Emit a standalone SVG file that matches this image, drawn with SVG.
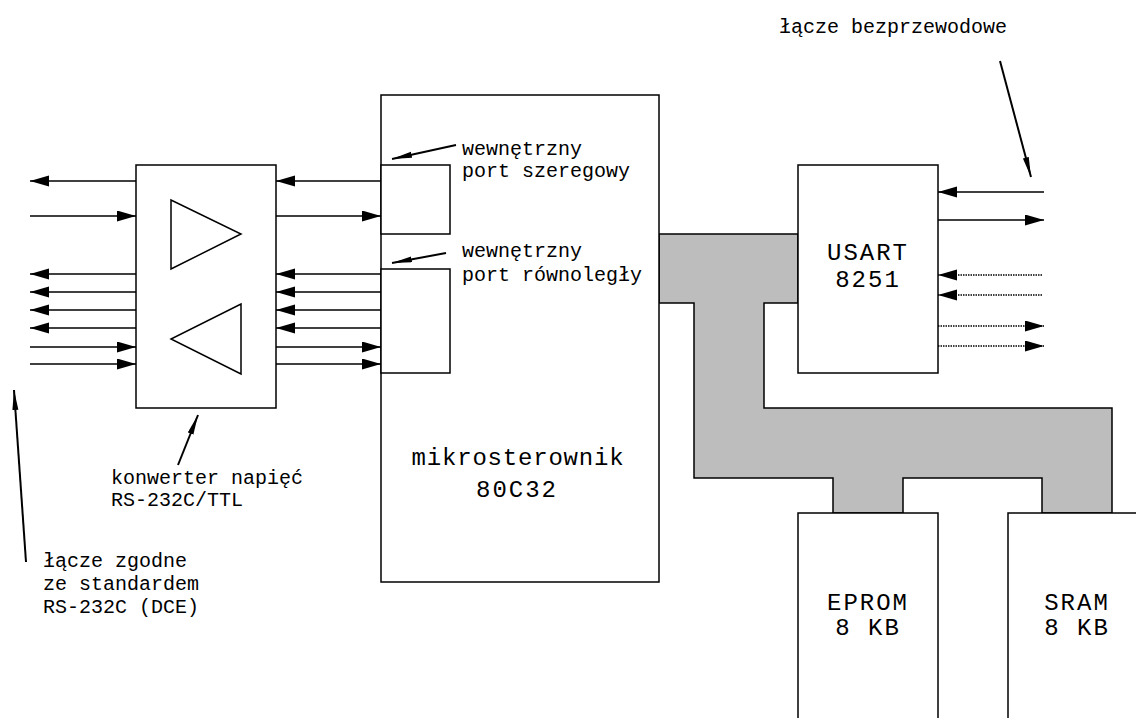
<svg xmlns="http://www.w3.org/2000/svg" width="1136" height="718" viewBox="0 0 1136 718">
<style>
.box{fill:#fff;stroke:#000;stroke-width:1.5}
.tri{fill:none;stroke:#000;stroke-width:1.5}
.w{stroke:#000;stroke-width:1.5;fill:none;marker-end:url(#ah)}
.d{stroke:#000;stroke-width:1.5;fill:none;stroke-dasharray:1.5 1;marker-end:url(#ah)}
.p{stroke:#000;stroke-width:2;fill:none;marker-end:url(#th)}
.bus{fill:#bdbdbd;stroke:#000;stroke-width:1.5}
text{font-family:"Liberation Mono","DejaVu Sans Mono",monospace;fill:#000}
.s{font-size:20px}
.b{font-size:24px;letter-spacing:2px;text-anchor:middle}
</style>
<defs>
<marker id="ah" markerUnits="userSpaceOnUse" markerWidth="20" markerHeight="12" refX="19" refY="5.5" orient="auto"><path d="M0,0 L19,5.5 L0,11 z" fill="#000"/></marker>
<marker id="th" markerUnits="userSpaceOnUse" markerWidth="22" markerHeight="8" refX="20" refY="3" orient="auto"><path d="M0,0 L20,3 L0,6 z" fill="#000"/></marker>
</defs>
<rect width="1136" height="718" fill="#fff"/>
<g id="bus"><path class="bus" d="M659,234 L798,234 L798,303 L764,303 L764,408 L1112,408 L1112,513 L1042,513 L1042,478 L903,478 L903,513 L833,513 L833,478 L694,478 L694,303 L659,303 Z"/></g>
<g id="converter"><rect class="box" x="136" y="165" width="140" height="243"/><path class="tri" d="M171,200 L171,269 L241,234 Z"/><path class="tri" d="M241,304 L241,374 L171,339 Z"/></g>
<g id="mcu"><rect class="box" x="381" y="95" width="278" height="487"/><text class="b" x="518" y="465" style="letter-spacing:0.8px">mikrosterownik</text><text class="b" x="517" y="497">80C32</text></g>
<g id="serial-port"><rect class="box" x="381" y="165" width="69" height="69"/></g>
<g id="parallel-port"><rect class="box" x="381" y="269" width="69" height="104"/></g>
<g id="usart"><rect class="box" x="798" y="165" width="140" height="208"/><text class="b" x="868" y="260">USART</text><text class="b" x="868" y="287">8251</text></g>
<g id="eprom"><rect class="box" x="798" y="513" width="140" height="220"/><text class="b" x="868" y="610">EPROM</text><text class="b" x="868" y="635">8 KB</text></g>
<g id="sram"><rect class="box" x="1008" y="513" width="140" height="220"/><text class="b" x="1077" y="610">SRAM</text><text class="b" x="1077" y="635">8 KB</text></g>
<g id="connectors">
<path class="w" d="M136,181 L30,181"/>
<path class="w" d="M30,216 L136,216"/>
<path class="w" d="M136,274 L30,274"/>
<path class="w" d="M136,292 L30,292"/>
<path class="w" d="M136,310 L30,310"/>
<path class="w" d="M136,328 L30,328"/>
<path class="w" d="M30,347 L136,347"/>
<path class="w" d="M30,364 L136,364"/>
<path class="w" d="M381,181 L276,181"/>
<path class="w" d="M276,216 L381,216"/>
<path class="w" d="M381,274 L276,274"/>
<path class="w" d="M381,292 L276,292"/>
<path class="w" d="M381,310 L276,310"/>
<path class="w" d="M381,328 L276,328"/>
<path class="w" d="M276,347 L381,347"/>
<path class="w" d="M276,364 L381,364"/>
<path class="w" d="M1044,192 L938,192"/>
<path class="w" d="M938,220 L1044,220"/>
<path class="d" d="M1042,275 L938,275"/>
<path class="d" d="M1042,295 L938,295"/>
<path class="d" d="M938,326 L1044,326"/>
<path class="d" d="M938,346 L1044,346"/>
<path class="p" d="M456,145 L392,159"/>
<path class="p" d="M446,253 L392,263"/>
<path class="p" d="M1000,61 L1031,177"/>
<path class="p" d="M178,465 L198,415"/>
<path class="p" d="M26,562 L14,390"/>
</g>
<g id="labels">
<text class="s" x="462" y="155">wewnętrzny</text>
<text class="s" x="462" y="177">port szeregowy</text>
<text class="s" x="462" y="257">wewnętrzny</text>
<text class="s" x="462" y="281">port równoległy</text>
<text class="s" x="779" y="33">łącze bezprzewodowe</text>
<text class="s" x="111" y="484">konwerter napięć</text>
<text class="s" x="111" y="506">RS-232C/TTL</text>
<text class="s" x="43" y="567">łącze zgodne</text>
<text class="s" x="43" y="590">ze standardem</text>
<text class="s" x="43" y="613">RS-232C (DCE)</text>
</g>
</svg>
